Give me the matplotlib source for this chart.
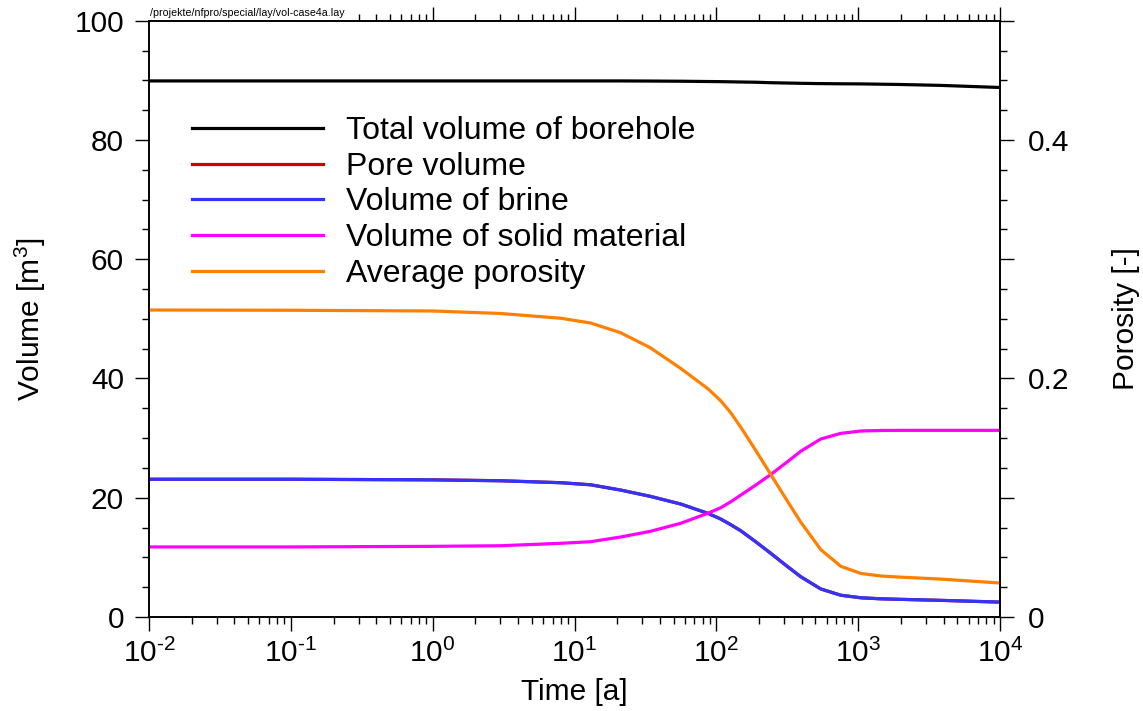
import numpy as np
import matplotlib.pyplot as plt
from matplotlib.ticker import MultipleLocator, FuncFormatter, FixedLocator, LogLocator, NullFormatter

plt.rcParams['font.family'] = ['Liberation Sans', 'DejaVu Sans']
plt.rcParams['mathtext.fontset'] = 'custom'
plt.rcParams['mathtext.rm'] = 'Liberation Sans'
plt.rcParams['mathtext.it'] = 'Liberation Sans'
plt.rcParams['mathtext.default'] = 'regular'
plt.rcParams['axes.unicode_minus'] = False

time = [0.01, 0.1, 1, 3, 8, 13, 21, 34, 56, 87, 107, 126, 149, 190, 242, 310, 394, 545, 755,
        1045, 1445, 2000, 3830, 10000]
total_volume = [89.9, 89.9, 89.9, 89.9, 89.9, 89.9, 89.9, 89.88, 89.85, 89.8, 89.78, 89.75, 89.72, 89.68,
                89.6, 89.55, 89.5, 89.45, 89.42, 89.4, 89.35, 89.3, 89.15, 88.8]
pore_volume = [23.1, 23.1, 23.0, 22.85, 22.52, 22.17, 21.3, 20.25, 18.95, 17.39, 16.45, 15.5, 14.45, 12.6,
               10.68, 8.65, 6.75, 4.7, 3.65, 3.22, 3.05, 2.96, 2.79, 2.5]
brine_volume = [23.1, 23.1, 23.0, 22.85, 22.52, 22.17, 21.3, 20.25, 18.95, 17.39, 16.45, 15.5, 14.45, 12.6,
                10.68, 8.65, 6.75, 4.7, 3.65, 3.22, 3.05, 2.96, 2.79, 2.5]
solid_volume = [11.75, 11.75, 11.85, 11.95, 12.36, 12.63, 13.4, 14.35, 15.71, 17.39, 18.3, 19.3, 20.45,
                22.14, 23.9, 25.85, 27.8, 29.85, 30.8, 31.19, 31.28, 31.3, 31.3, 31.3]
porosity = [0.2574, 0.2572, 0.2566, 0.2545, 0.2505, 0.2465, 0.2385, 0.226, 0.2085, 0.1915, 0.1815, 0.1715,
            0.159, 0.1395, 0.1195, 0.099, 0.0795, 0.0565, 0.0425, 0.0365, 0.0344, 0.0334, 0.0318, 0.0285]
decades = [-2, -1, 0, 1, 2, 3, 4]

fig = plt.figure(figsize=(11.43, 7.11), dpi=100)
ax = fig.add_axes([149 / 1143, 1 - 617 / 711, 851 / 1143, (617 - 20.7) / 711])
ax2 = ax.twinx()

lw = 2.3
l1, = ax.plot(time, total_volume, color='black', lw=lw, label='Total volume of borehole')
l2, = ax.plot(time, pore_volume, color='#cc0000', lw=lw, label='Pore volume')
l3, = ax.plot(time, brine_volume, color='#3333ff', lw=lw, label='Volume of brine')
l4, = ax.plot(time, solid_volume, color='#ff00ff', lw=lw, label='Volume of solid material')
l5, = ax2.plot(time, porosity, color='#ff8000', lw=lw, label='Average porosity')

ax.set_xscale('log')
ax.set_xlim(1e-2, 1e4)
ax.set_ylim(0, 100)
ax2.set_ylim(0, 0.5)

fs = 21.5
ax.xaxis.set_major_locator(FixedLocator([10.0 ** d for d in decades]))
ax.xaxis.set_major_formatter(FuncFormatter(
    lambda v, p: '$10^{%s}$' % str(int(round(np.log10(v)))).replace('-', '\u2010')))
ax.xaxis.set_minor_locator(LogLocator(base=10, subs=np.arange(2, 10), numticks=100))
ax.xaxis.set_minor_formatter(NullFormatter())
ax.yaxis.set_major_locator(MultipleLocator(20))
ax.yaxis.set_minor_locator(MultipleLocator(5))
ax2.yaxis.set_major_locator(MultipleLocator(0.1))
ax2.yaxis.set_minor_locator(MultipleLocator(0.025))
ax2.yaxis.set_major_formatter(FuncFormatter(
    lambda v, p: ('0' if abs(v) < 1e-9 else f'{v:g}') if round(v * 10) % 2 == 0 else ''))

for a in (ax, ax2):
    a.tick_params(which='major', direction='out', length=10, width=1, labelsize=fs, pad=8)
    a.tick_params(which='minor', direction='out', length=5, width=1)
    for s in a.spines.values():
        s.set_linewidth(1.2)
ax.tick_params(which='both', top=True)
ax.tick_params(axis='x', which='major', pad=6)
ax2.tick_params(axis='y', which='major', pad=10)

ax.set_xlabel('Time [a]', fontsize=fs, labelpad=7)
ax.set_ylabel('Volume [m$^3$]', fontsize=fs, labelpad=19)
ax2.set_ylabel('Porosity [-]', fontsize=fs, labelpad=31)

ax2.legend(handles=[l1, l2, l3, l4, l5], loc='upper left', bbox_to_anchor=(192 / 1143, 1 - 116 / 711),
           bbox_transform=fig.transFigure, frameon=False, fontsize=23, handlelength=4.1,
           handletextpad=0.72, labelspacing=0.18, borderpad=0, borderaxespad=0)

fig.text(150 / 1143, 1 - 13 / 711, '/projekte/nfpro/special/lay/vol-case4a.lay', fontsize=7.7,
         va='center', ha='left', bbox=dict(facecolor='white', edgecolor='none', pad=1.5), zorder=10)

fig.savefig('out.png', dpi=100)
